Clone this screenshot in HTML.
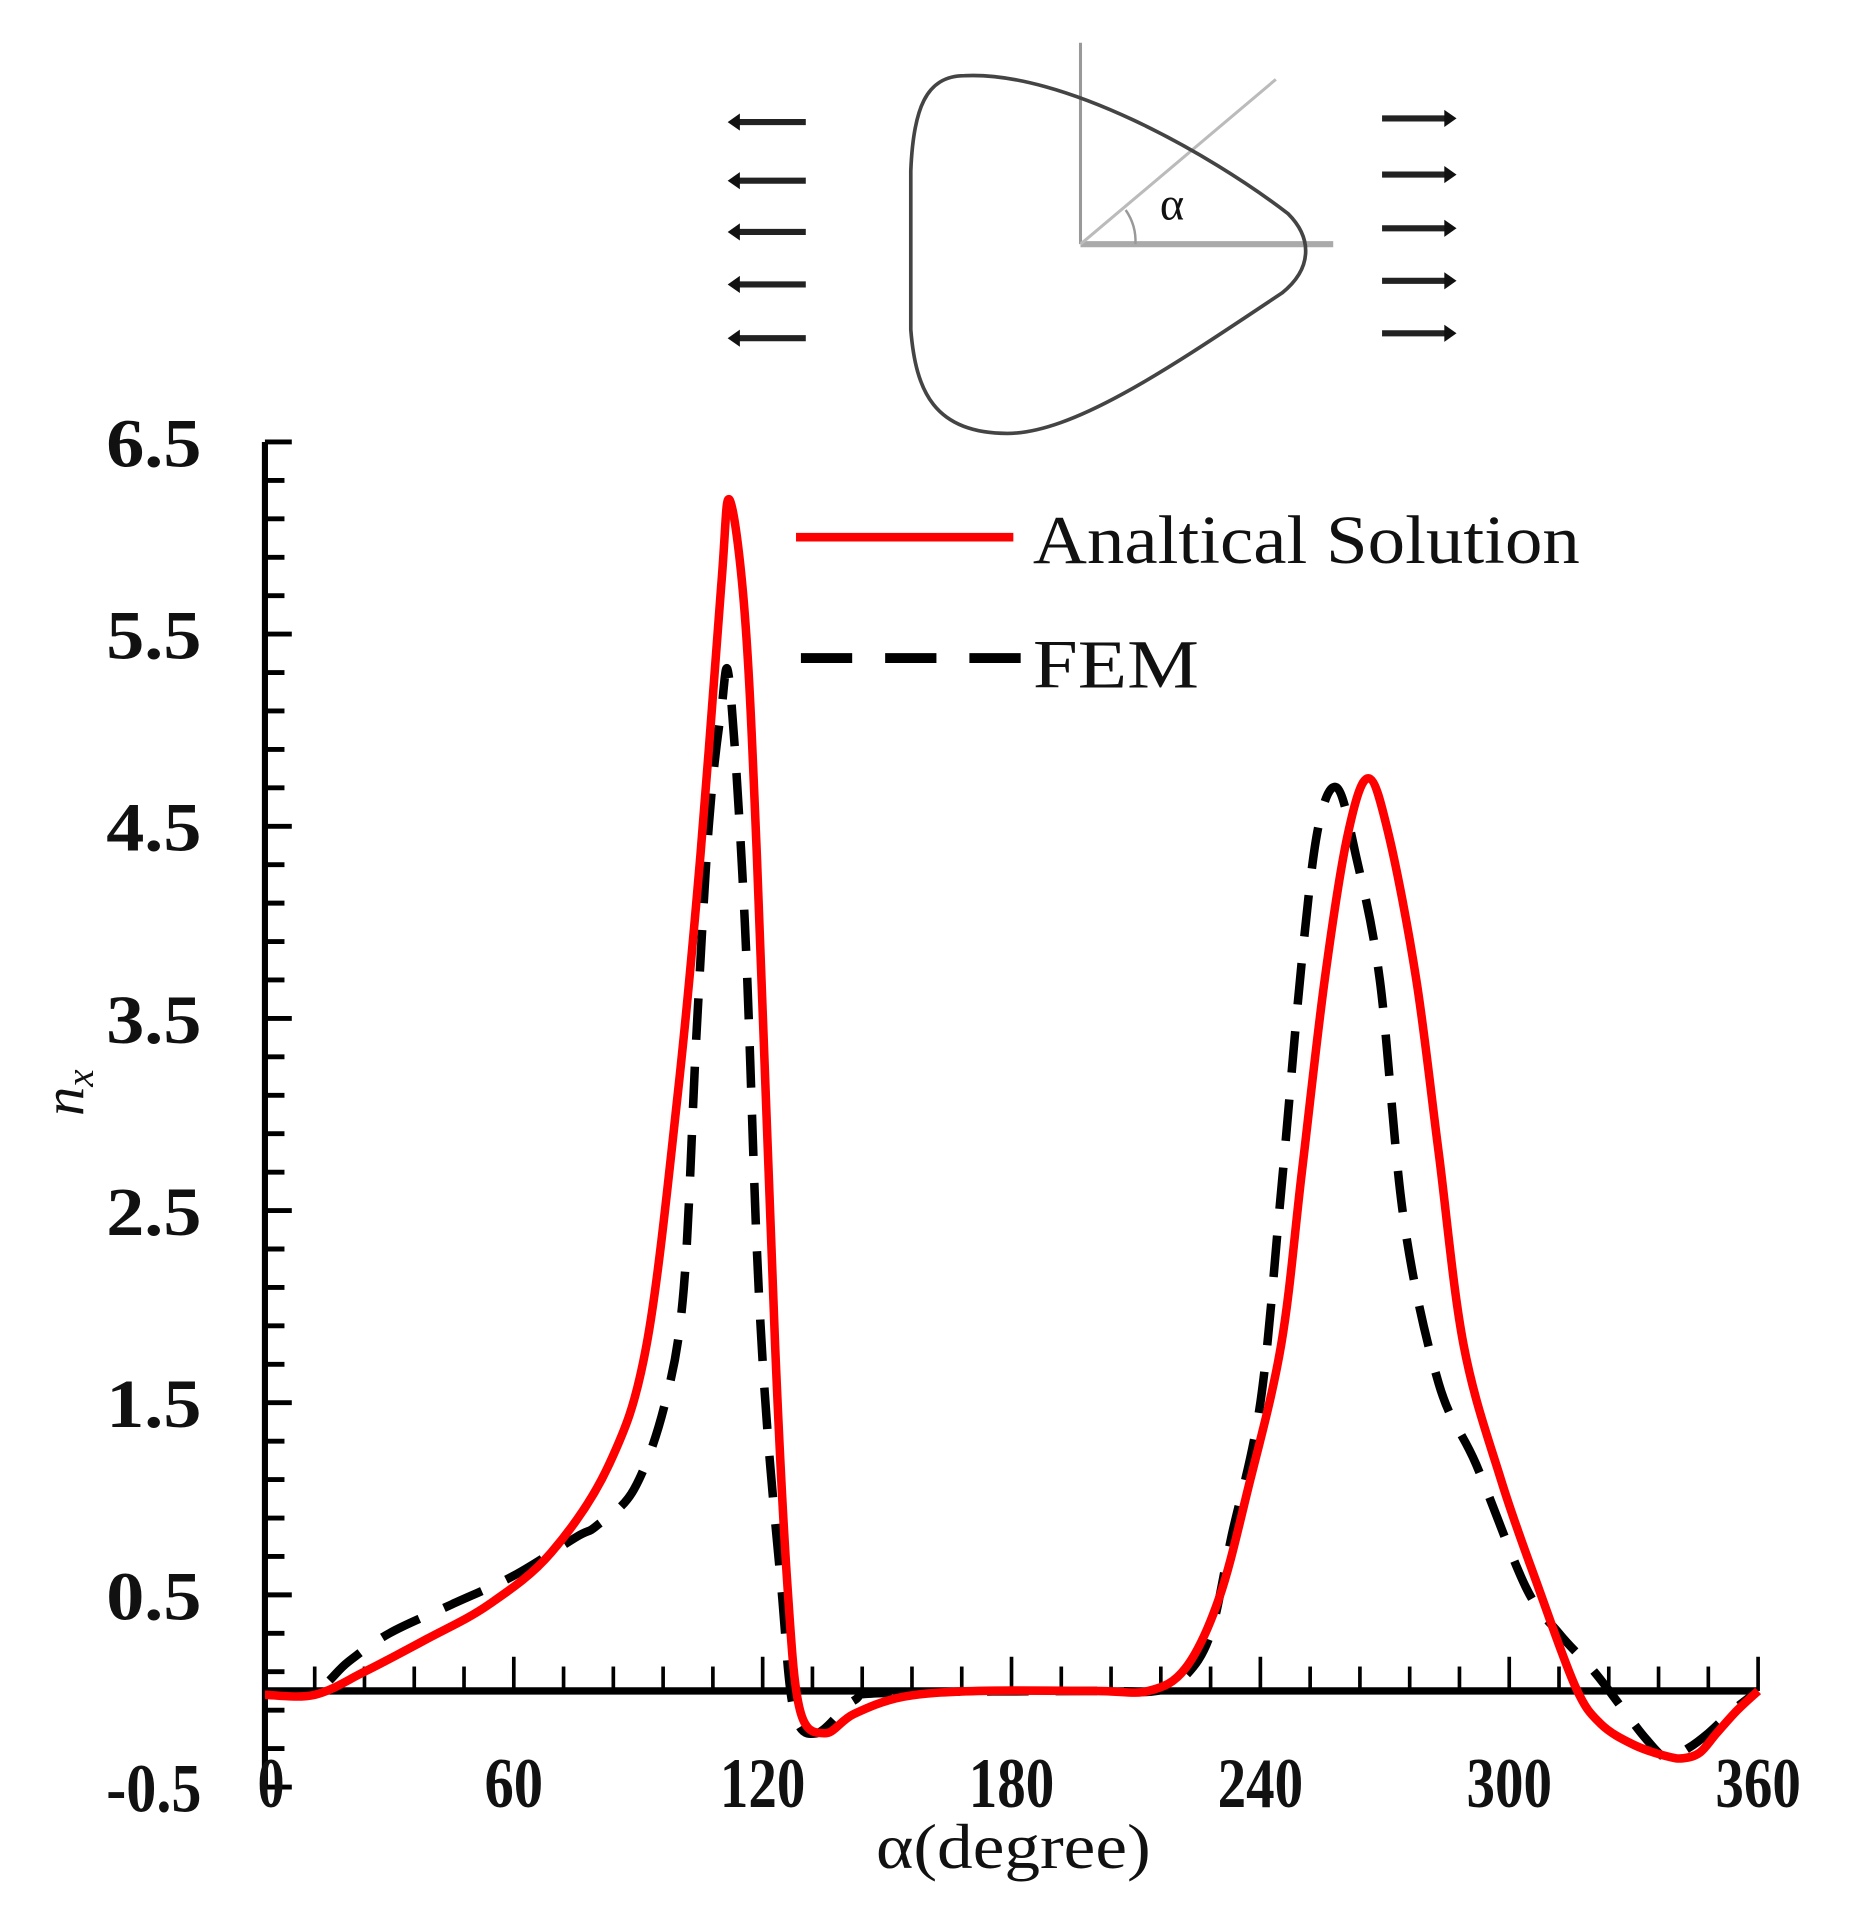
<!DOCTYPE html>
<html><head><meta charset="utf-8"><style>html,body{margin:0;padding:0;background:#fff}svg{display:block}</style></head>
<body>
<svg id="chart" width="1868" height="1916" viewBox="0 0 1868 1916" xmlns="http://www.w3.org/2000/svg" font-family="'Liberation Serif', serif">
<g transform="scale(1.2209)">
 <g>
  <line x1="885" y1="35" x2="885" y2="200" stroke="#999" stroke-width="2.5"/>
  <line x1="885" y1="200" x2="1092" y2="200" stroke="#aaa" stroke-width="5"/>
  <line x1="885" y1="200" x2="1045" y2="65" stroke="#bbb" stroke-width="2.5"/>
  <path d="M930,200 A45,45 0 0 0 922,172" fill="none" stroke="#999" stroke-width="2"/>
  <text x="950" y="180" font-size="38" fill="#111">α</text>
  <path d="M790,62 C870,58 990,125 1055,175 C1075,195 1075,220 1050,240 C960,300 880,355 825,355 C765,355 750,320 746,270 L746,140 C748,90 758,62 790,62 Z" fill="none" stroke="#444" stroke-width="3"/>
  <g stroke="#222" stroke-width="5">
   <line x1="600" y1="100" x2="660" y2="100"/><line x1="600" y1="148" x2="660" y2="148"/><line x1="600" y1="190" x2="660" y2="190"/><line x1="600" y1="233" x2="660" y2="233"/><line x1="600" y1="277" x2="660" y2="277"/>
  </g>
  <g fill="#111"><path d="M596,100 l10,-7 v14z"/><path d="M596,148 l10,-7 v14z"/><path d="M596,190 l10,-7 v14z"/><path d="M596,233 l10,-7 v14z"/><path d="M596,277 l10,-7 v14z"/></g>
  <g stroke="#222" stroke-width="5">
   <line x1="1132" y1="97" x2="1186" y2="97"/><line x1="1132" y1="143" x2="1186" y2="143"/><line x1="1132" y1="187" x2="1186" y2="187"/><line x1="1132" y1="230" x2="1186" y2="230"/><line x1="1132" y1="273" x2="1186" y2="273"/>
  </g>
  <g fill="#111"><path d="M1193,97 l-10,-7 v14z"/><path d="M1193,143 l-10,-7 v14z"/><path d="M1193,187 l-10,-7 v14z"/><path d="M1193,230 l-10,-7 v14z"/><path d="M1193,273 l-10,-7 v14z"/></g>
 </g>
 <g id="axes"></g>
 <g id="series"></g>
 <g>
  <line x1="652" y1="440" x2="830" y2="440" stroke="#f00" stroke-width="7"/>
  <text x="846" y="461" font-size="56" textLength="448" lengthAdjust="spacingAndGlyphs" fill="#111">Analtical Solution</text>
  <line x1="656" y1="539" x2="836" y2="539" stroke="#000" stroke-width="8" stroke-dasharray="42,27"/>
  <text x="846" y="563" font-size="56" textLength="136" lengthAdjust="spacingAndGlyphs" fill="#111">FEM</text>
 </g>
 <text transform="translate(68,895) rotate(-90)" text-anchor="middle" font-size="48" font-style="italic" fill="#111">n<tspan font-size="32" dy="8">x</tspan></text>
 <text x="830" y="1530" text-anchor="middle" font-size="52" textLength="225" lengthAdjust="spacingAndGlyphs" fill="#111">α(degree)</text>
</g>
</svg>
<script>
const xTicks = [0, 60, 120, 180, 240, 300, 360];
const yTicks = [-0.5, 0.5, 1.5, 2.5, 3.5, 4.5, 5.5, 6.5];
const anaX = [0,12,24,39,54,69,83,92,99.5,105,110,112,115.7,118.6,123,126,129,135,142,154,172,200,213,222,230,237,245,250,255.5,261,266,271,277.6,283,289,298,307,316,322,330,338,342,346,350,355,360];
const anaY = [-0.02,-0.02,0.1,0.27,0.45,0.72,1.18,1.8,3.1,4.35,5.75,6.2,5.6,4.35,1.8,0.54,-0.1,-0.22,-0.12,-0.03,0,0,0.0,0.12,0.48,1.05,1.8,2.7,3.7,4.45,4.75,4.45,3.7,2.8,1.8,1.1,0.54,0.02,-0.17,-0.28,-0.34,-0.35,-0.32,-0.22,-0.1,0];
const femX = [0,12,20,30,45,60,75,80,89,96.5,101,104,107,110,112,115.7,118.6,121,124.5,127.5,133,142,150,200,215,222,228,233,240,245,250,254,258.5,263,268.8,274.6,283,292,304,312,320.5,327.6,333,338,343,348,354,360];
const femY = [-0.02,0,0.15,0.3,0.45,0.6,0.8,0.86,1.05,1.5,2.1,3.4,4.5,5.1,5.25,4.0,2.3,1.4,0.54,-0.1,-0.22,-0.05,-0.01,0,0,0.08,0.3,0.8,1.5,2.6,3.8,4.5,4.7,4.35,3.7,2.45,1.6,1.18,0.54,0.3,0.1,-0.1,-0.25,-0.35,-0.3,-0.22,-0.1,0];
const NS = 'http://www.w3.org/2000/svg';
const X0 = 217, X1 = 1440, Y0 = 1385, YTOP = 362;
function sx(v){ return X0 + (v/360)*(X1-X0); }
function sy(v){ return Y0 - (v/6.5)*(Y0-YTOP); }
function mk(tag, attrs, parent){ const e=document.createElementNS(NS,tag); for(const k in attrs) e.setAttribute(k, attrs[k]); parent.appendChild(e); return e; }
const axes = document.getElementById('axes');
const yAxis = mk('line',{x1:X0,y1:YTOP,x2:X0,y2:sy(-0.5),stroke:'#000','stroke-width':5},axes);


const xAxis = mk('line',{x1:X0,y1:Y0,x2:X1,y2:Y0,stroke:'#000','stroke-width':6},axes);


for(let v=-0.5; v<=6.51; v+=0.2){
  const t = mk('line',{x1:X0,y1:sy(v),x2:X0+(Math.abs((v+0.5)%1)<0.01||Math.abs((v+0.5)%1-1)<0.01?22:16),y2:sy(v),stroke:'#000','stroke-width':4},axes);
  
  
}
for(let d=0; d<=360; d+=12){
  const t = mk('line',{x1:sx(d),y1:Y0,x2:sx(d),y2:Y0-(d%60===0?28:20),stroke:'#000','stroke-width':3},axes);
  
  
}
yTicks.forEach(v=>{
  const t = mk('text',{x:165,y:sy(v)+20,'text-anchor':'end','font-size':56,'font-weight':'bold',fill:'#111',textLength:78,lengthAdjust:'spacingAndGlyphs'},axes);
  t.textContent = v.toFixed(1);
  
  
});
xTicks.forEach(v=>{
  const w = v>=100?70:(v>=10?48:22);
  const t = mk('text',{x:sx(v)+(v===0?5:0),y:1480,'text-anchor':'middle','font-size':58,'font-weight':'bold',fill:'#111',textLength:w,lengthAdjust:'spacingAndGlyphs'},axes);
  t.textContent = String(v);
  
  
});
function pathFrom(xs, ys){
  const p = xs.map((x,i)=>[sx(x), sy(ys[i])]);
  let d = 'M'+p[0][0]+','+p[0][1];
  for(let i=0;i<p.length-1;i++){
    const p0=p[Math.max(0,i-1)], p1=p[i], p2=p[i+1], p3=p[Math.min(p.length-1,i+2)];
    const c1=[p1[0]+(p2[0]-p0[0])/6, p1[1]+(p2[1]-p0[1])/6];
    const c2=[p2[0]-(p3[0]-p1[0])/6, p2[1]-(p3[1]-p1[1])/6];
    d += ' C'+c1[0]+','+c1[1]+' '+c2[0]+','+c2[1]+' '+p2[0]+','+p2[1];
  }
  return d;
}
const series = document.getElementById('series');
const fem = mk('path',{d:pathFrom(femX,femY),fill:'none',stroke:'#000','stroke-width':7,'stroke-dasharray':'34,22'},series);


const ana = mk('path',{d:pathFrom(anaX,anaY),fill:'none',stroke:'#f00','stroke-width':7,'stroke-linejoin':'round'},series);


</script>
</body></html>
